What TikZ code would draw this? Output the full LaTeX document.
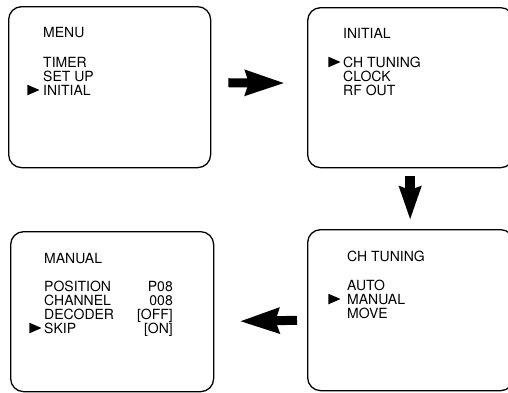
\documentclass[tikz,border=0pt]{standalone}
\usepackage{fontspec}
\setmainfont{TeX Gyre Heros}
\usetikzlibrary{arrows.meta, shapes.geometric}

\begin{document}
\begin{tikzpicture}[x=1pt, y=-1pt,
    screen/.style={draw, line width=1.3pt, rounded corners=13pt, anchor=north west,
        minimum width=202pt, minimum height=161pt, inner sep=0pt},
    item/.style={anchor=base west, inner sep=0pt, font=\fontsize{14}{14}\selectfont},
    value/.style={item, anchor=base east},
    marker/.style={isosceles triangle, isosceles triangle stretches, fill=black,
        inner sep=0pt, minimum width=10.5pt, minimum height=12pt, anchor=east},
    bigarrow/.style={line width=9pt, -{Stealth[length=39pt, width=24pt, inset=3pt]}}]

    % --- Page size (right screens run off the edge) ---
    \useasboundingbox (0,0) rectangle (508,392);
    \clip (0,0) rectangle (508,392);

    % --- Screens ---
    \node[screen] (menu) at (8,6) {};
    \node[screen, minimum width=206pt, minimum height=160pt] (initial) at (307,7) {};
    \node[screen, minimum width=203pt, minimum height=160pt] (manual) at (10,231) {};
    \node[screen, minimum width=206pt] (tuning) at (307,229) {};

    % --- MENU screen ---
    \node[item] (menuT) at (43,37) {MENU};
    \node[item] (timer) at (43,67) {TIMER};
    \node[item] (setup) at (43,81) {SET UP};
    \node[item] (init) at (43,95) {INITIAL};
    \node[marker] (mk1) at (40,90) {};

    % --- INITIAL screen ---
    \node[item] (initT) at (343,38) {INITIAL};
    \node[item] (chtun) at (343,67) {CH TUNING};
    \node[item] (clock) at (343,81) {CLOCK};
    \node[item] (rfout) at (343,95) {RF OUT};
    \node[marker] (mk2) at (341,62) {};

    % --- CH TUNING screen ---
    \node[item] (tunT) at (347,261) {CH TUNING};
    \node[item] (auto) at (347,290) {AUTO};
    \node[item] (man) at (347,304) {MANUAL};
    \node[item] (move) at (347,318) {MOVE};
    \node[marker] (mk3) at (341,299) {};

    % --- MANUAL screen ---
    \node[item] (manT) at (44,263) {MANUAL};
    \node[item] (pos) at (44,291) {POSITION};
    \node[item] (chan) at (44,305) {CHANNEL};
    \node[item] (dec) at (44,319) {DECODER};
    \node[item] (skip) at (44,333) {SKIP};
    \node[value] (posV) at (173,291) {P08};
    \node[value] (chanV) at (173,305) {008};
    \node[value] (decV) at (173,319) {[OFF]};
    \node[value] (skipV) at (173,333) {[ON]};
    \node[marker] (mk4) at (42,328) {};

    % --- Arrows between screens ---
    \draw[bigarrow, shorten <=17pt, shorten >=22pt]
        ([yshift=4.5pt]menu.east) -- ([yshift=4.5pt]initial.west);
    \draw[bigarrow, line width=10pt, -{Stealth[length=33pt, width=21pt, inset=3pt]},
        shorten <=8pt, shorten >=9pt]
        ([xshift=-0.5pt]initial.south) -- ([xshift=-0.5pt]tuning.north);
    \draw[bigarrow, shorten <=10pt, shorten >=25pt]
        ([yshift=-10pt]tuning.west) -- ([yshift=-10pt]manual.east);

\end{tikzpicture}
\end{document}
